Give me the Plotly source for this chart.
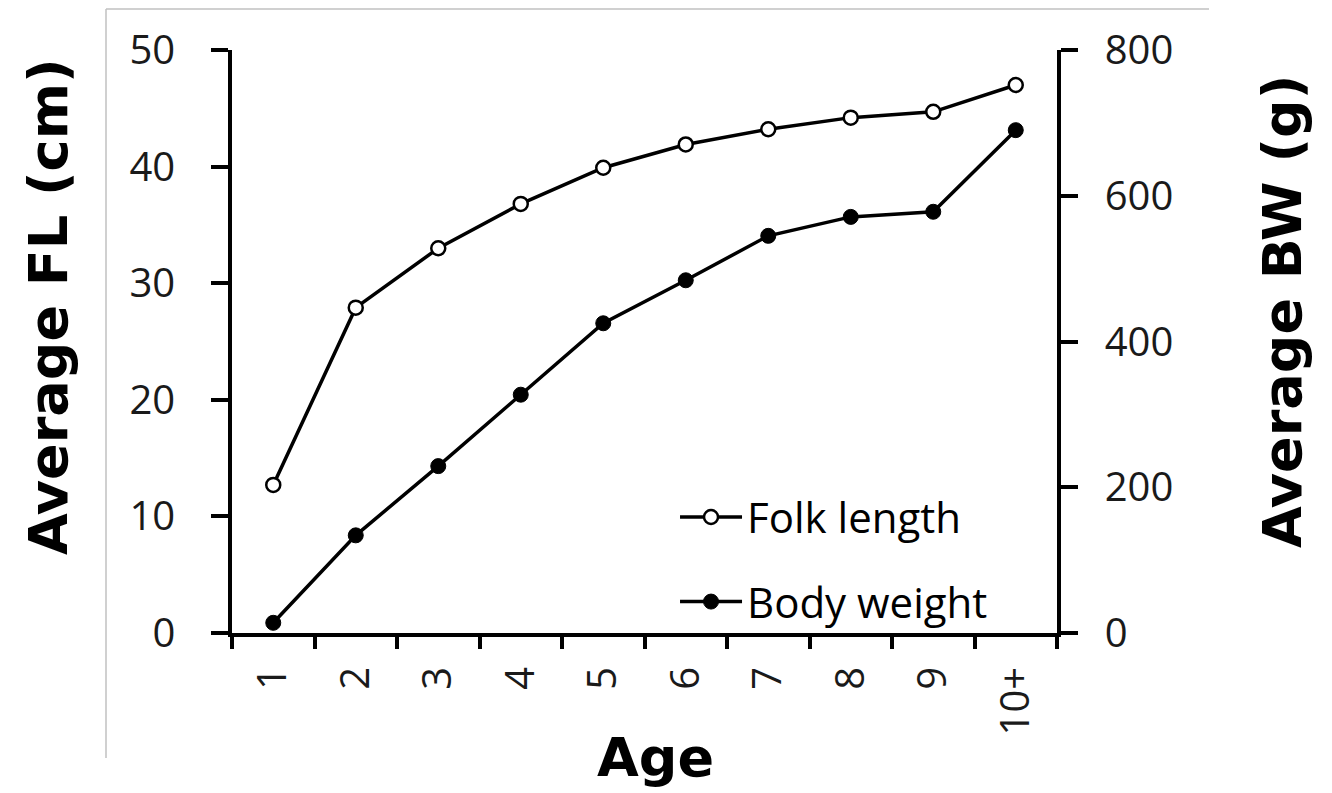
import plotly.graph_objects as go

ages = ["1", "2", "3", "4", "5", "6", "7", "8", "9", "10+"]
fork_length = [12.7, 27.9, 33.0, 36.8, 39.9, 41.9, 43.2, 44.2, 44.7, 47.0]
body_weight = [14, 134, 229, 327, 425, 484, 545, 571, 578, 690]

FONT = "Open Sans"
TITLE_FONT = "DejaVu Sans"

fig = go.Figure()
fig.add_trace(go.Scatter(
    x=ages, y=fork_length, name="Folk length", mode="lines+markers",
    line=dict(color="black", width=3.5),
    marker=dict(symbol="circle", size=14, color="white", line=dict(color="black", width=2.5)),
    legendgroup="a", yaxis="y",
))
fig.add_trace(go.Scatter(
    x=ages, y=body_weight, name="Body weight", mode="lines+markers",
    line=dict(color="black", width=3.5),
    marker=dict(symbol="circle", size=15, color="black", line=dict(color="black", width=1)),
    legendgroup="b", yaxis="y2",
))

axis_common = dict(showgrid=False, zeroline=False, showline=True, linecolor="black", linewidth=3.5,
                   ticks="outside", tickwidth=3.5, tickcolor="black",
                   tickfont=dict(family=FONT, size=40, color="#1a1a1a"))

fig.update_layout(
    width=1324, height=785,
    margin=dict(l=224, r=275, t=42, b=160),
    paper_bgcolor="white", plot_bgcolor="white",
    xaxis=dict(type="category", range=[-0.5, 9.5], tickson="boundaries", ticklen=12,
               tickangle=-90, ticklabelstandoff=14, **axis_common),
    yaxis=dict(range=[0, 50], dtick=10, ticklen=17, ticklabelstandoff=28, **axis_common),
    yaxis2=dict(range=[0, 800], dtick=200, ticklen=17, ticklabelstandoff=19,
                overlaying="y", side="right", **axis_common),
    showlegend=True,
    legend=dict(x=0.537, y=0.257, xanchor="left", yanchor="top", bgcolor="rgba(0,0,0,0)",
                itemwidth=62,
                font=dict(family=FONT, size=42, color="black"), tracegroupgap=27),
    font=dict(family=FONT),
)

fig.add_annotation(text="<b>Average FL (cm)</b>", xref="paper", yref="paper",
                   x=(48 - 232) / 825, y=(633 - 307) / 583, textangle=-90, showarrow=False,
                   font=dict(family=TITLE_FONT, size=54, color="black"), xanchor="center", yanchor="middle")
fig.add_annotation(text="<b>Average BW (g)</b>", xref="paper", yref="paper",
                   x=(1283 - 232) / 825, y=(633 - 312) / 583, textangle=-90, showarrow=False,
                   font=dict(family=TITLE_FONT, size=54, color="black"), xanchor="center", yanchor="middle")
fig.add_annotation(text="<b>Age</b>", xref="paper", yref="paper",
                   x=(655 - 232) / 825, y=(633 - 757) / 583, showarrow=False,
                   font=dict(family=TITLE_FONT, size=54, color="black"), xanchor="center", yanchor="middle")

# faint frame lines (top and left)
fig.add_shape(type="line", xref="paper", yref="paper", x0=(106 - 232) / 825, x1=(1209 - 232) / 825,
              y0=(633 - 9) / 583, y1=(633 - 9) / 583, line=dict(color="#c0c0c0", width=1.5))
fig.add_shape(type="line", xref="paper", yref="paper", x0=(106 - 232) / 825, x1=(106 - 232) / 825,
              y0=(633 - 9) / 583, y1=(633 - 758) / 583, line=dict(color="#c0c0c0", width=1.5))

fig.write_html("out.html")
